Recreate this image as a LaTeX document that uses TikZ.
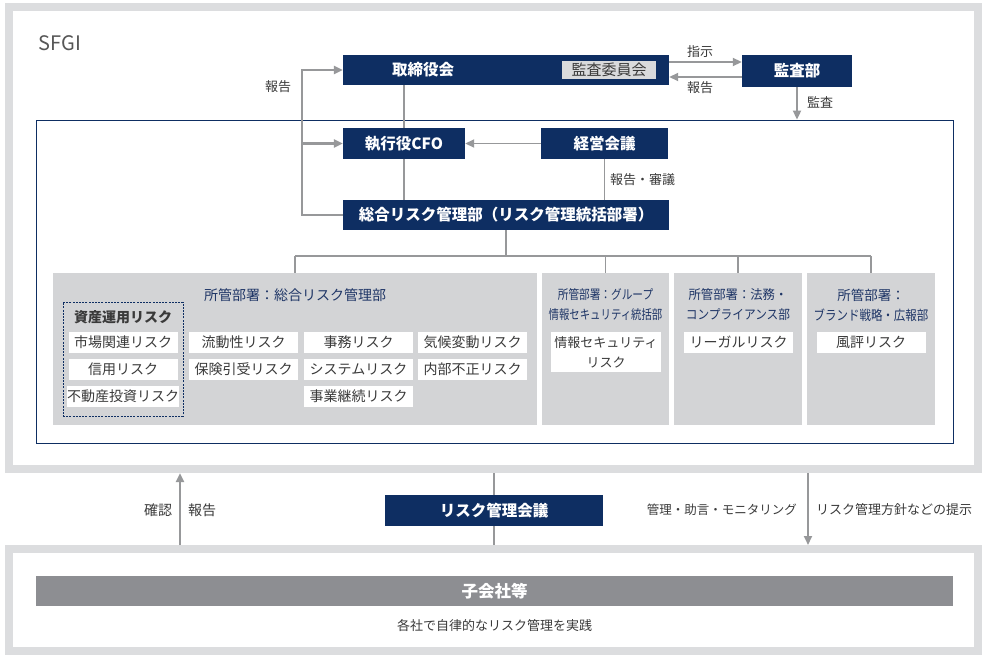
\documentclass[tikz,border=0pt]{standalone}
\usepackage{fontspec}
\setmainfont{Noto Sans CJK JP}
\usepackage{graphicx}
\usepackage{tikz}
\usetikzlibrary{positioning,calc,arrows.meta}
\definecolor{SFNavy}{HTML}{0E2E62}
\definecolor{SFFrame}{HTML}{DCDDDF}
\definecolor{SFGroup}{HTML}{D3D4D6}
\definecolor{SFLine}{HTML}{97989A}
\definecolor{SFBar}{HTML}{8D8E92}
\definecolor{SFTitle}{HTML}{1E3566}
\definecolor{SFText}{HTML}{3A3A3A}
\definecolor{SFSoft}{HTML}{D9DADC}

\tikzset{
  navybox/.style={fill=SFNavy,text=white,inner sep=0pt,font=\fontsize{15.5}{18}\selectfont\bfseries},
  grpbox/.style={fill=SFGroup,inner sep=0pt},
  riskbox/.style={fill=white,inner sep=0pt,minimum width=109pt,minimum height=21pt,text=SFText,font=\fontsize{14}{17}\selectfont},
  grptitle/.style={text=SFTitle,align=center,inner sep=0pt},
  flow/.style={draw=SFLine,line width=2.6pt},
  link/.style={draw=SFLine,line width=1.8pt},
  tie/.style={draw=SFLine,line width=1.3pt},
  note/.style={text=SFText,inner sep=1pt,font=\fontsize{13}{15}\selectfont},
  outerframe/.style={draw=SFFrame,line width=8pt,fill=white,inner sep=0pt}
}
\newcommand{\narrow}[2]{\scalebox{#1}[1]{#2}}

\begin{document}
\begin{tikzpicture}[x=1pt,y=-1pt,>={Triangle[length=9pt,width=8pt]}]
  \useasboundingbox[fill=white] (0,0) rectangle (992,661);
  % frames
  \node[outerframe,minimum width=969pt,minimum height=462pt] (sfgi) at (493.5,238) {};
  \node[outerframe,minimum width=969pt,minimum height=102pt] (group) at (493.5,600) {};
  \node[anchor=west,text=SFText!85,font=\fontsize{20}{24}\selectfont] (sfgilbl) at (35,43) {SFGI};
  \node[draw=SFNavy,line width=0.8pt,minimum width=917pt,minimum height=323pt,inner sep=0pt] (core) at (494.5,281.5) {};

  % governance
  \node[navybox,minimum width=326pt,minimum height=30pt] (board) at (506,70) {};
  \node[text=white,font=\fontsize{15.5}{18}\selectfont\bfseries] (boardlbl) at (423,70) {取締役会};
  \node[fill=SFSoft,text=SFText,inner sep=0pt,minimum width=94pt,minimum height=18pt,font=\fontsize{15}{18}\selectfont] (audcom) at (609,70) {監査委員会};
  \node[navybox,minimum width=110pt,minimum height=32pt] (auddept) at (797,71) {監査部};
  \node[navybox,minimum width=122pt,minimum height=31pt] (cfo) at (404,143.5) {執行役CFO};
  \node[navybox,minimum width=127pt,minimum height=31pt] (mgmt) at (604.5,143.5) {経営会議};
  \node[navybox,minimum width=326pt,minimum height=30pt] (rmd) at (506,215) {総合リスク管理部（リスク管理統括部署）};

  \coordinate (instr) at ($(board.east)+(0,-8)$);
  \coordinate (back) at ($(board.east)+(0,7)$);
  \draw[link,->] (instr) -- (instr -| auddept.west);
  \draw[link,->] (back -| auddept.west) -- (back);
  \node[note] (instrlbl) at (700,52) {指示};
  \node[note] (backlbl) at (700,88) {報告};
  \draw[link,->] (auddept.south) -- (auddept.south |- core.north);
  \node[note] (auditlbl) at (820,102) {監査};

  \draw[link,->] (mgmt.west) -- (cfo.east);
  \draw[link] (board.south -| cfo) -- (cfo.north);
  \draw[link] (cfo.south) -- (rmd.north -| cfo);
  \draw[link] (mgmt.south) -- (rmd.north -| mgmt);
  \node[note,anchor=west] (reviewlbl) at (609,180) {報告・審議};

  \coordinate (rptbus) at (302,0);
  \draw[flow,->] (rmd.west) -- (rmd.west -| rptbus) |- (board.west);
  \draw[flow,->] (cfo.west -| rptbus) -- (cfo.west);
  \node[note] (rptlbl) at (278,87) {報告};

  % risk groups
  \node[grpbox,minimum width=484pt,minimum height=152pt] (grpA) at (295,349) {};
  \node[grpbox,minimum width=127pt,minimum height=152pt] (grpB) at (605.5,349) {};
  \node[grpbox,minimum width=128pt,minimum height=152pt] (grpC) at (738,349) {};
  \node[grpbox,minimum width=128pt,minimum height=152pt] (grpD) at (871,349) {};

  \coordinate (bus) at (0,256);
  \draw[tie] (rmd.south) -- (rmd.south |- bus);
  \draw[tie] (grpA.north |- bus) -- (grpD.north |- bus);
  \draw[tie] (grpA.north |- bus) -- (grpA.north);
  \draw[tie] (grpB.north |- bus) -- (grpB.north);
  \draw[tie] (grpC.north |- bus) -- (grpC.north);
  \draw[tie] (grpD.north |- bus) -- (grpD.north);

  \node[grptitle,font=\fontsize{14}{17}\selectfont] (ttlA) at (295,295) {所管部署：総合リスク管理部};
  \node[grptitle,font=\fontsize{13}{20}\selectfont] (ttlB) at (605.5,305) {\narrow{0.82}{所管部署：グループ}\\\narrow{0.8}{情報セキュリティ統括部}};
  \node[grptitle,font=\fontsize{13}{20}\selectfont] (ttlC) at (738,305) {\narrow{0.95}{所管部署：法務・}\\\narrow{0.9}{コンプライアンス部}};
  \node[grptitle,font=\fontsize{13.5}{20}\selectfont] (ttlD) at (871,305) {所管部署：\\\narrow{0.85}{ブランド戦略・広報部}};

  \node[draw=SFNavy,dash pattern=on 2pt off 1.2pt,line width=0.8pt,minimum width=120pt,minimum height=114pt,inner sep=0pt] (asset) at (123,359) {};
  \node[text=SFText,font=\fontsize{14}{17}\selectfont\bfseries] (assetttl) at (123,317) {資産運用リスク};
  \node[riskbox] (market) at (123,342.5) {市場関連リスク};
  \node[riskbox] (credit) at (123,369.5) {信用リスク};
  \node[riskbox] (estate) at (123,396.5) {不動産投資リスク};
  \node[riskbox] (liquid) at (243.5,342.5) {流動性リスク};
  \node[riskbox] (underw) at (243.5,369.5) {保険引受リスク};
  \node[riskbox] (office) at (358.5,342.5) {事務リスク};
  \node[riskbox] (system) at (358.5,369.5) {システムリスク};
  \node[riskbox] (contin) at (358.5,396.5) {事業継続リスク};
  \node[riskbox] (climate) at (472.5,342.5) {気候変動リスク};
  \node[riskbox] (fraud) at (472.5,369.5) {内部不正リスク};
  \node[riskbox,minimum width=110pt,minimum height=40pt,align=center,font=\fontsize{13}{20}\selectfont] (infosec) at (606,352) {情報セキュリティ\\リスク};
  \node[riskbox] (legal) at (738.5,342.5) {リーガルリスク};
  \node[riskbox] (repute) at (871,342.5) {風評リスク};

  % group companies
  \node[navybox,minimum width=218pt,minimum height=31pt] (rmc) at (494,510.5) {リスク管理会議};
  \node[fill=SFBar,text=white,inner sep=0pt,minimum width=917pt,minimum height=30pt,font=\fontsize{16.5}{20}\selectfont\bfseries] (subs) at (494.5,591) {子会社等};
  \node[note] (practice) at (494.5,626) {各社で自律的なリスク管理を実践};

  \coordinate (upx) at (180,0);
  \coordinate (downx) at (808,0);
  \draw[flow,->] (group.north -| upx) -- (sfgi.south -| upx);
  \draw[link,->] (sfgi.south -| downx) -- (group.north -| downx);
  \draw[flow] (sfgi.south -| rmc) -- (rmc.north);
  \draw[flow] (rmc.south) -- (group.north -| rmc);
  \node[note,font=\fontsize{14}{17}\selectfont] (checklbl) at (158,510) {確認};
  \node[note,font=\fontsize{14}{17}\selectfont] (uplbl) at (202,510) {報告};
  \node[note,anchor=east,font=\fontsize{12.5}{15}\selectfont] (guidelbl) at (798,510) {管理・助言・モニタリング};
  \node[note,anchor=west] (policylbl) at (815,510) {リスク管理方針などの提示};
\end{tikzpicture}
\end{document}
